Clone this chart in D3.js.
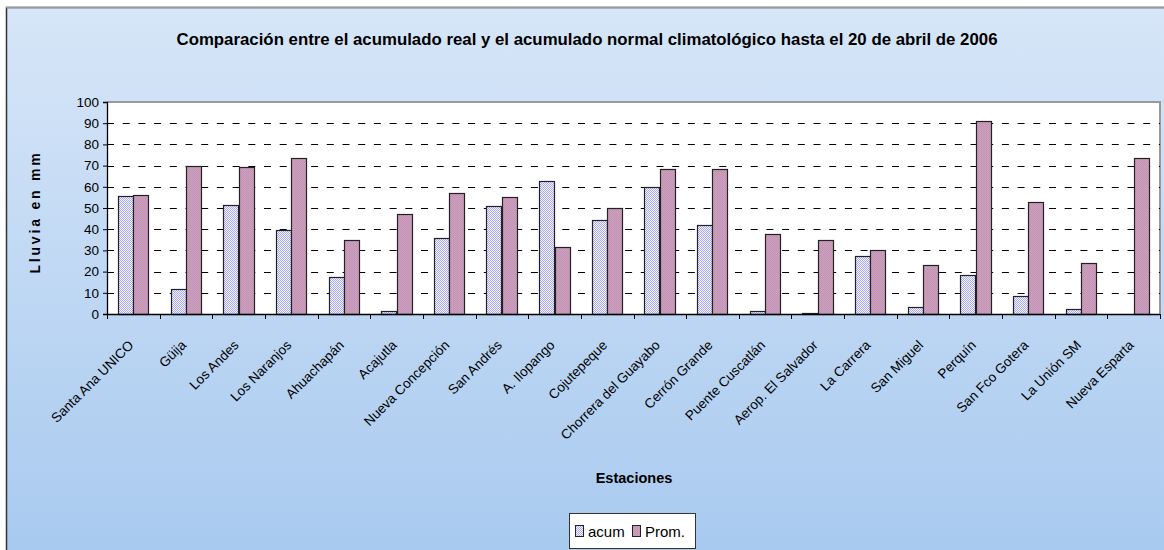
<!DOCTYPE html>
<html lang="es">
  <head>
    <meta charset="utf-8">
    <title>Acumulado real vs normal climatológico</title>
    <script type="text/javascript" src="https://cdn.jsdelivr.net/npm/d3@7/dist/d3.min.js"></script>
    <style>
      body { margin: 0; background: #fff; }
      svg text { font-family: Arial, "Liberation Sans", sans-serif; fill: #000; }
    </style>
  </head>
  <body>
  <div id="chart"></div>

  <script>
      // stations (x categories)
      var estaciones = ["Santa Ana UNICO", "Güija", "Los Andes", "Los Naranjos", "Ahuachapán",
        "Acajutla", "Nueva Concepción", "San Andrés", "A. Ilopango", "Cojutepeque",
        "Chorrera del Guayabo", "Cerrón Grande", "Puente Cuscatlán", "Aerop. El Salvador",
        "La Carrera", "San Miguel", "Perquín", "San Fco Gotera", "La Unión SM", "Nueva Esparta"];

      // real accumulated rain (mm)
      var acum = [55.5, 11.8, 51.3, 39.5, 17.6, 1.3, 35.7, 50.8, 62.6, 44.3,
                  59.7, 42.1, 1.3, 0.6, 27.5, 3.5, 18.2, 8.3, 2.2, 0];

      // normal (climatological) accumulated rain (mm)
      var prom = [56.3, 69.7, 69.2, 73.4, 35.1, 47.2, 56.9, 55.0, 31.6, 50.0,
                  68.2, 68.2, 37.9, 35.1, 30.3, 23.3, 90.9, 52.8, 23.9, 73.4];

      var yTicks = [0, 10, 20, 30, 40, 50, 60, 70, 80, 90, 100];
      var series = ["acum", "Prom."];

      var W = 1164, H = 550;
      var plot = {left: 107, right: 1160, top: 102, bottom: 314};

      var svg = d3.select("#chart").append("svg")
          .attr("width", W)
          .attr("height", H);

      var defs = svg.append("defs");

      // background gradient
      var grad = defs.append("linearGradient")
          .attr("id", "bg")
          .attr("x1", 0).attr("y1", 0).attr("x2", 0).attr("y2", 1);
      grad.append("stop").attr("offset", "0%").attr("stop-color", "#d7e6f8");
      grad.append("stop").attr("offset", "100%").attr("stop-color", "#a7c9ef");

      // fill textures (2px checker, bars are snapped to whole pixels)
      var pA = defs.append("pattern").attr("id", "patAcum")
          .attr("width", 2).attr("height", 2).attr("patternUnits", "userSpaceOnUse");
      pA.append("rect").attr("width", 2).attr("height", 2).attr("fill", "#f4f4ff");
      pA.append("rect").attr("width", 1).attr("height", 1).attr("fill", "#aaaaf4");
      pA.append("rect").attr("x", 1).attr("y", 1).attr("width", 1).attr("height", 1).attr("fill", "#aaaaf4");

      var pP = defs.append("pattern").attr("id", "patProm")
          .attr("width", 2).attr("height", 2).attr("patternUnits", "userSpaceOnUse");
      pP.append("rect").attr("width", 2).attr("height", 2).attr("fill", "#cf9fbf");
      pP.append("rect").attr("width", 1).attr("height", 1).attr("fill", "#c294b4");
      pP.append("rect").attr("x", 1).attr("y", 1).attr("width", 1).attr("height", 1).attr("fill", "#c294b4");

      var fills = {"acum": "url(#patAcum)", "Prom.": "url(#patProm)"};

      // chart area
      svg.append("rect")
          .attr("x", 6.5).attr("y", 7.5)
          .attr("width", W + 10).attr("height", H + 10)
          .attr("fill", "url(#bg)")
          .attr("stroke", "#333")
          .attr("stroke-width", 1.5);
      svg.append("line")
          .attr("x1", 6).attr("x2", W).attr("y1", 7.5).attr("y2", 7.5)
          .attr("stroke", "#9a9a9a").attr("stroke-width", 1.5);

      // scales
      var x = d3.scaleBand()
          .domain(estaciones)
          .range([plot.left, plot.right]);

      var xs = d3.scaleBand()
          .domain(series)
          .range([0, x.bandwidth()])
          .paddingOuter(0.71);

      var y = d3.scaleLinear()
          .domain([0, 100])
          .range([plot.bottom, plot.top]);

      // plot area
      svg.append("rect")
          .attr("x", plot.left).attr("y", plot.top)
          .attr("width", plot.right - plot.left).attr("height", plot.bottom - plot.top)
          .attr("fill", "#fff");
      svg.append("path")
          .attr("d", "M" + plot.left + "," + plot.top + "H" + plot.right + "V" + plot.bottom)
          .attr("fill", "none")
          .attr("stroke", "#999")
          .attr("stroke-width", 2);

      // dashed gridlines
      svg.append("g")
          .selectAll("line")
          .data(yTicks.filter(function(d) { return d > 0 && d < 100; }))
          .enter()
          .append("line")
              .attr("x1", plot.left).attr("x2", plot.right)
              .attr("y1", function(d) { return Math.round(y(d)) + 0.5; })
              .attr("y2", function(d) { return Math.round(y(d)) + 0.5; })
              .attr("stroke", "#000")
              .attr("stroke-dasharray", "7,8.7");

      // bars
      var groups = svg.append("g")
          .selectAll("g")
          .data(estaciones)
          .enter()
          .append("g");

      groups.selectAll("rect")
          .data(function(d, i) {
              return [{st: d, s: "acum", v: acum[i]}, {st: d, s: "Prom.", v: prom[i]}];
          })
          .enter()
          .append("rect")
              .attr("x", function(d) { return Math.round(x(d.st) + xs(d.s)) + 0.5; })
              .attr("y", function(d) { return Math.round(y(d.v)) + 0.5; })
              .attr("width", Math.round(xs.bandwidth()))
              .attr("height", function(d) { return Math.round(y(0)) - Math.round(y(d.v)); })
              .attr("fill", function(d) { return fills[d.s]; })
              .attr("stroke", function(d) { return d.v > 0 ? "#222" : "none"; })
              .attr("stroke-width", 1.2);

      // y axis
      var yAxis = svg.append("g")
          .attr("transform", "translate(" + plot.left + ",0)")
          .call(d3.axisLeft(y).tickValues(yTicks).tickSize(4).tickPadding(4));
      yAxis.select(".domain").attr("stroke", "#000").attr("stroke-width", 1.3);
      yAxis.selectAll(".tick line").attr("stroke", "#000");
      yAxis.selectAll(".tick text")
          .style("font-size", "13.5px")
          .style("font-family", "Arial, 'Liberation Sans', sans-serif");

      // x axis: ticks at the category boundaries
      var bounds = estaciones.map(function(d) { return x(d); }).concat([plot.right]);
      svg.append("line")
          .attr("x1", plot.left).attr("x2", plot.right)
          .attr("y1", plot.bottom + 0.5).attr("y2", plot.bottom + 0.5)
          .attr("stroke", "#000").attr("stroke-width", 1.3);
      svg.append("g")
          .selectAll("line")
          .data(bounds)
          .enter()
          .append("line")
              .attr("x1", function(d) { return Math.round(d) + 0.5; })
              .attr("x2", function(d) { return Math.round(d) + 0.5; })
              .attr("y1", plot.bottom).attr("y2", plot.bottom + 5)
              .attr("stroke", "#000");

      // rotated station labels
      svg.append("g")
          .selectAll("text")
          .data(estaciones)
          .enter()
          .append("text")
              .attr("transform", function(d) {
                  return "translate(" + (x(d) + x.bandwidth() / 2 + 1) + "," + 346 + ") rotate(-45)";
              })
              .attr("text-anchor", "end")
              .style("font-size", "13.5px")
              .text(function(d) { return d; });

      // titles
      svg.append("text")
          .attr("x", 587).attr("y", 45)
          .attr("text-anchor", "middle")
          .attr("textLength", 821)
          .attr("lengthAdjust", "spacingAndGlyphs")
          .style("font-size", "17px")
          .style("font-weight", "bold")
          .text("Comparación entre el acumulado real y el acumulado normal climatológico hasta el 20 de abril de 2006");

      svg.append("text")
          .attr("transform", "translate(40,212) rotate(-90)")
          .attr("text-anchor", "middle")
          .style("font-size", "14px")
          .style("font-weight", "bold")
          .style("letter-spacing", "2.8px")
          .text("Lluvia en mm");

      svg.append("text")
          .attr("x", 634).attr("y", 483)
          .attr("text-anchor", "middle")
          .style("font-size", "14.5px")
          .style("font-weight", "bold")
          .text("Estaciones");

      // legend
      var legend = svg.append("g").attr("transform", "translate(569,513)");
      legend.append("rect")
          .attr("x", 0.5).attr("y", 0.5)
          .attr("width", 126).attr("height", 35)
          .attr("fill", "#fff")
          .attr("stroke", "#333");

      var items = [{s: "acum", x: 6, tx: 19}, {s: "Prom.", x: 63, tx: 76}];
      items.forEach(function(it) {
          legend.append("rect")
              .attr("x", it.x + 0.5).attr("y", 12.5)
              .attr("width", 8).attr("height", 11)
              .attr("fill", fills[it.s])
              .attr("stroke", "#222");
          legend.append("text")
              .attr("x", it.tx).attr("y", 24)
              .style("font-size", "15px")
              .text(it.s);
      });
  </script>
  </body>
</html>
